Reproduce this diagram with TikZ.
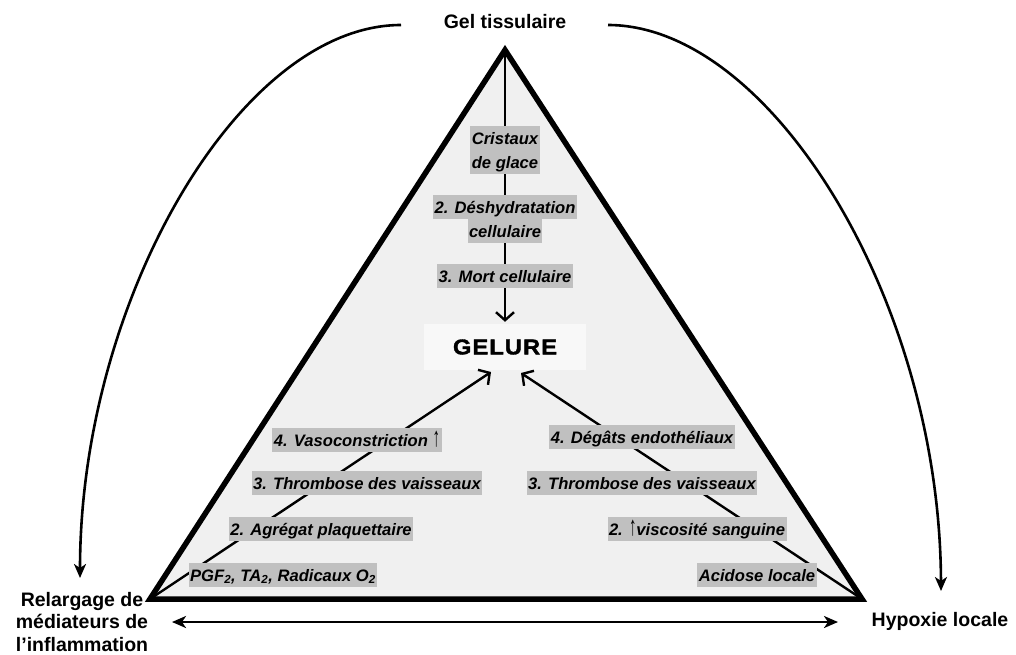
\documentclass[tikz,border=0pt]{standalone}
\usepackage{fontspec}
\setmainfont{Liberation Sans}
\usetikzlibrary{arrows.meta}
\definecolor{trifill}{HTML}{F0F0F0}
\definecolor{lab}{HTML}{C0C0C0}
\definecolor{gbox}{HTML}{F8F8F8}
\newcommand\hlbox[1]{{\fboxsep=1.5pt\colorbox{lab}{\rule[-4.5pt]{0pt}{21pt}#1}}}
\newcommand\uparr{\raisebox{-0.5pt}{\scalebox{0.9}[1.65]{↑}}}
\tikzset{
  tri/.style={line width=5.5pt, line join=miter},
  flow/.style={line width=2.4pt, -{Straight Barb[length=8pt,width=18pt]}},
  curv/.style={line width=2.6pt, -{Stealth[length=14pt,width=12pt,inset=4pt]}},
  dbl/.style={line width=2.8pt, {Stealth[length=14pt,width=12pt,inset=4pt]}-{Stealth[length=14pt,width=12pt,inset=4pt]}},
  lbl/.style={inner sep=0pt, font=\fontsize{16.6}{24}\selectfont\bfseries\itshape, align=center},
  outer/.style={inner sep=0pt, font=\fontsize{19.5}{22.5}\selectfont\bfseries, align=center},
}
\begin{document}
\begin{tikzpicture}[x=1pt,y=-1pt]
\useasboundingbox (0,0) rectangle (1016,654);
% triangle vertices
\coordinate (apex) at (505,50);
\coordinate (bl) at (150,599);
\coordinate (br) at (862,599);
\fill[trifill] (apex) -- (bl) -- (br) -- cycle;
% central node
\node[fill=gbox, minimum width=162pt, minimum height=46pt, inner sep=0pt,
      font=\fontsize{21.5}{24}\selectfont\bfseries\addfontfeatures{FakeBold=1.6}] (gelure) at (505,347)
      {\scalebox{1.1}[1]{G\kern1pt E\kern1pt L\kern1pt U\kern1pt R\kern1pt E}};
\coordinate (gl) at (491,372);
\coordinate (gr) at (521,373);
% inner flows
\draw[flow, shorten >=2pt] (apex) -- (gelure.north);
\draw[flow] (bl) -- (gl);
\draw[flow] (br) -- (gr);
% labels
\node[lbl] (cris) at (505,150) {\hlbox{Cristaux}\\\hlbox{de glace}};
\node[lbl] (desh) at (505,219) {\hlbox{2. Déshydratation}\\\hlbox{cellulaire}};
\node[lbl] (mort) at (505,276) {\hlbox{3. Mort cellulaire}};
\node[lbl] (l4) at (357,440) {\hlbox{4. Vasoconstriction \uparr}};
\node[lbl] (l3) at (367,483) {\hlbox{3. Thrombose des vaisseaux}};
\node[lbl] (l2) at (321,529) {\hlbox{2. Agrégat plaquettaire}};
\node[lbl] (l1) at (283,575) {\hlbox{PGF\textsubscript{2}, TA\textsubscript{2}, Radicaux O\textsubscript{2}}};
\node[lbl] (r4) at (642,437) {\hlbox{4. Dégâts endothéliaux}};
\node[lbl] (r3) at (642,483) {\hlbox{3. Thrombose des vaisseaux}};
\node[lbl] (r2) at (697,529) {\hlbox{2. \uparr viscosité sanguine}};
\node[lbl] (r1) at (757,575) {\hlbox{Acidose locale}};
% triangle border
\draw[tri] (apex) -- (bl) -- (br) -- cycle;
% outer labels
\node[outer] (gel) at (505,22) {Gel tissulaire};
\node[outer] (rel) at (82,622) {Relargage de\\médiateurs de\\l’inflammation};
\node[outer] (hyp) at (940,621) {Hypoxie locale};
% outer connectors
\coordinate (cl0) at (401,25);
\coordinate (cl1) at (80,578);
\coordinate (cr0) at (608,25);
\coordinate (cr1) at (941,591);
\draw[curv] (cl0) .. controls (240,25) and (80,300) .. (cl1);
\draw[curv] (cr0) .. controls (770,25) and (940,300) .. (cr1);
\coordinate (bl0) at (172,622);
\coordinate (br0) at (838,622);
\draw[dbl] (bl0) -- (br0);
\end{tikzpicture}
\end{document}
